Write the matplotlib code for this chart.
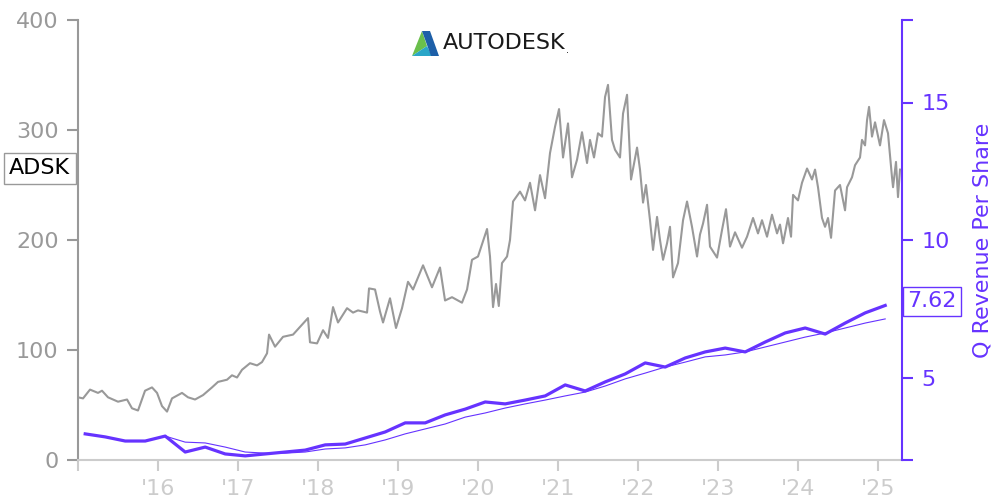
import matplotlib
matplotlib.use('Agg')
import matplotlib.pyplot as plt
from matplotlib.patches import Polygon

# share price (decimal year, USD)
price_t = [2015.000, 2015.063, 2015.150, 2015.250, 2015.300, 2015.375, 2015.500, 2015.613, 2015.675, 2015.750,
           2015.838, 2015.925, 2015.988, 2016.050, 2016.113, 2016.175, 2016.300, 2016.375, 2016.463, 2016.563,
           2016.675, 2016.750, 2016.863, 2016.925, 2016.988, 2017.050, 2017.150, 2017.238, 2017.300, 2017.363,
           2017.388, 2017.463, 2017.563, 2017.688, 2017.775, 2017.875, 2017.900, 2017.988, 2018.063, 2018.125,
           2018.188, 2018.250, 2018.363, 2018.438, 2018.500, 2018.613, 2018.638, 2018.713, 2018.775, 2018.813,
           2018.900, 2018.975, 2019.050, 2019.125, 2019.188, 2019.313, 2019.425, 2019.525, 2019.588, 2019.675,
           2019.800, 2019.863, 2019.925, 2020.000, 2020.113, 2020.150, 2020.188, 2020.225, 2020.260, 2020.300,
           2020.363, 2020.400, 2020.438, 2020.525, 2020.588, 2020.650, 2020.713, 2020.775, 2020.838, 2020.900,
           2020.963, 2021.013, 2021.063, 2021.125, 2021.175, 2021.238, 2021.300, 2021.363, 2021.400, 2021.450,
           2021.500, 2021.550, 2021.588, 2021.625, 2021.675, 2021.713, 2021.775, 2021.813, 2021.863, 2021.913,
           2021.988, 2022.025, 2022.063, 2022.100, 2022.150, 2022.188, 2022.238, 2022.275, 2022.313, 2022.363,
           2022.400, 2022.438, 2022.500, 2022.563, 2022.613, 2022.675, 2022.738, 2022.775, 2022.813, 2022.863,
           2022.900, 2022.988, 2023.050, 2023.100, 2023.150, 2023.213, 2023.300, 2023.363, 2023.438, 2023.500,
           2023.550, 2023.613, 2023.675, 2023.738, 2023.775, 2023.813, 2023.875, 2023.913, 2023.938, 2024.000,
           2024.050, 2024.113, 2024.175, 2024.213, 2024.250, 2024.300, 2024.338, 2024.375, 2024.413, 2024.463,
           2024.525, 2024.588, 2024.613, 2024.675, 2024.713, 2024.775, 2024.800, 2024.838, 2024.863, 2024.888,
           2024.925, 2024.963, 2025.025, 2025.075, 2025.125, 2025.175, 2025.188, 2025.225, 2025.250, 2025.275]
price = [57, 56, 64, 61, 63, 57, 53, 55, 47, 45,
         63, 66, 61, 49, 44, 56, 61, 57, 55, 59,
         66, 71, 73, 77, 75, 82, 88, 86, 89, 97,
         114, 103, 112, 114, 121, 129, 107, 106, 118, 111,
         139, 125, 138, 134, 136, 134, 156, 155, 135, 125,
         147, 120, 138, 162, 155, 177, 157, 175, 145, 148,
         143, 155, 182, 185, 210, 185, 139, 160, 140, 179,
         185, 200, 235, 244, 236, 252, 227, 259, 238, 279,
         303, 319, 275, 306, 257, 273, 298, 270, 291, 275,
         297, 294, 330, 341, 291, 282, 275, 315, 332, 255,
         284, 264, 234, 250, 218, 191, 221, 200, 182, 197,
         212, 166, 179, 218, 235, 212, 185, 205, 215, 232,
         194, 184, 209, 228, 194, 207, 193, 203, 220, 206,
         218, 203, 223, 206, 214, 197, 220, 203, 241, 236,
         252, 265, 255, 264, 248, 220, 212, 220, 202, 245,
         250, 227, 248, 257, 268, 275, 291, 286, 309, 321,
         294, 307, 286, 309, 297, 257, 248, 271, 239, 264]

# quarterly revenue per share
rev_t = [2015.09 + 0.25 * i for i in range(41)]
rev = [2.95, 2.84, 2.69, 2.69, 2.87, 2.29, 2.47, 2.22, 2.15, 2.22,
       2.29, 2.36, 2.55, 2.58, 2.80, 3.02, 3.35, 3.35, 3.64, 3.85,
       4.11, 4.04, 4.18, 4.33, 4.73, 4.51, 4.84, 5.13, 5.53, 5.38,
       5.71, 5.93, 6.07, 5.93, 6.29, 6.62, 6.80, 6.58, 6.98, 7.35, 7.62]
# thin trend line, starts at the 5th quarter
trend_t = rev_t[4:]
trend = [2.87, 2.65, 2.62, 2.47, 2.29, 2.25, 2.25, 2.29, 2.40, 2.44,
         2.55, 2.73, 2.95, 3.13, 3.31, 3.56, 3.71, 3.89, 4.04, 4.18,
         4.33, 4.47, 4.69, 4.95, 5.16, 5.38, 5.56, 5.75, 5.82, 5.93,
         6.11, 6.29, 6.47, 6.62, 6.80, 6.98, 7.13]

years = list(range(2015, 2026))
year_labels = [''] + ["'%02d" % (y % 100) for y in years[1:]]

gray = '#999999'
light = '#cccccc'
purple = '#6633ff'

fig = plt.figure(figsize=(10, 5), dpi=100)
ax = fig.add_axes([0.078, 0.08, 0.824, 0.88])
ax2 = ax.twinx()

ax.plot(price_t, price, color=gray, lw=1.5)
ax.set_xlim(2015.0, 2025.3)
ax.set_ylim(0, 400)
ax.set_yticks([0, 100, 200, 300, 400])
ax.set_xticks(years)
ax.set_xticklabels(year_labels)

for s in ['top', 'right']:
    ax.spines[s].set_visible(False)
ax.spines['left'].set_color(gray)
ax.spines['left'].set_linewidth(1.5)
ax.spines['bottom'].set_color(light)
ax.spines['bottom'].set_linewidth(1.5)
ax.tick_params(axis='y', colors=gray, labelsize=16, length=8, width=1.5, pad=6)
ax.tick_params(axis='x', colors=light, labelsize=16, length=8, width=1.5, pad=6)

ax2.plot(trend_t, trend, color=purple, lw=0.8)
ax2.plot(rev_t, rev, color=purple, lw=2.3)
ax2.set_ylim(2, 18)
ax2.set_yticks([2, 5, 10, 15, 18])
ax2.set_yticklabels(['', '5', '10', '15', ''])
for s in ['top', 'left', 'bottom']:
    ax2.spines[s].set_visible(False)
ax2.spines['right'].set_color(purple)
ax2.spines['right'].set_linewidth(1.5)
ax2.tick_params(axis='y', colors=purple, labelsize=16, length=8, width=1.5, pad=6)
ax2.set_ylabel('Q Revenue Per Share', color=purple, fontsize=16, labelpad=16)

ax.annotate('ADSK', xy=(0, 265), xycoords=('axes fraction', 'data'),
            xytext=(-5.5, 0), textcoords='offset points', ha='right', va='center',
            fontsize=16, color='black',
            bbox=dict(boxstyle='square,pad=0.25', fc='white', ec=gray, lw=1))
ax2.annotate('%.2f' % rev[-1], xy=(1, rev[-1]), xycoords=('axes fraction', 'data'),
             xytext=(4, 3), textcoords='offset points', ha='left', va='center',
             fontsize=16, color=purple,
             bbox=dict(boxstyle='square,pad=0.2', fc='white', ec=purple, lw=1))

# logo
def px(pts):
    return [(x / 1000.0, 1 - y / 500.0) for x, y in pts]

fig.patches.append(Polygon(px([(412, 56), (422, 31), (427, 46)]), closed=True,
                           fc='#6abf4b', ec='none', transform=fig.transFigure))
fig.patches.append(Polygon(px([(412, 56), (427, 46), (432, 56)]), closed=True,
                           fc='#2aa6c8', ec='none', transform=fig.transFigure))
fig.patches.append(Polygon(px([(422, 31), (430, 31), (439, 56), (431, 56)]), closed=True,
                           fc='#1d5fa8', ec='none', transform=fig.transFigure))
fig.text(0.443, 1 - 43 / 500.0, 'AUTODESK', fontsize=16, color='#1a1a1a',
         ha='left', va='center')
fig.text(0.566, 1 - 50 / 500.0, '.', fontsize=7, color='#1a1a1a', ha='left', va='center')

fig.savefig('out.png', dpi=100)
